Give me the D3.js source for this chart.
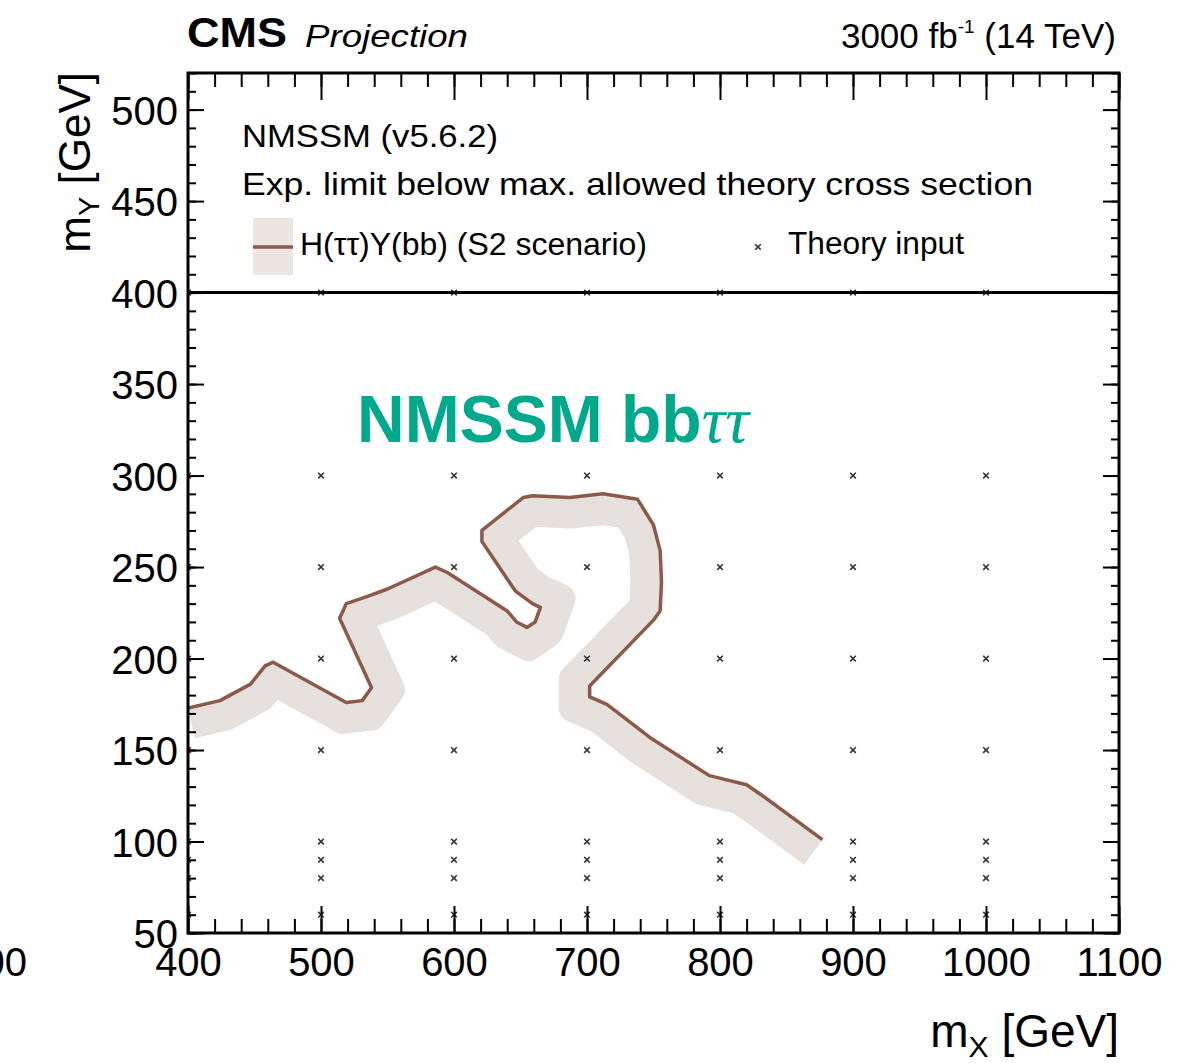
<!DOCTYPE html>
<html>
<head>
<meta charset="utf-8">
<script src="https://cdn.jsdelivr.net/npm/d3@7"></script>
<style>
  html, body { margin: 0; padding: 0; background: #fff; }
  svg { display: block; }
  text { font-family: 'Liberation Sans', Arial, Helvetica, sans-serif; fill: #000; }
</style>
</head>
<body>
<svg id="chart" width="1204" height="1063"></svg>
<script>
// Axis ticks and labels
const xTickValues = [400, 500, 600, 700, 800, 900, 1000, 1100];
const yTickValues = [50, 100, 150, 200, 250, 300, 350, 400, 450, 500];

// Expected exclusion contour, H(tautau)Y(bb), S2 scenario: (mX, mY) in GeV
const contourMX = [400, 424, 447, 458, 464, 519, 531, 538, 514, 519, 535, 550, 586, 595,
                   640, 647, 655, 661, 665, 659, 646, 621, 621, 652, 659, 687, 712, 738,
                   750, 755, 756, 755, 750, 702, 702, 715, 747, 792, 820, 832, 877];
const contourMY = [173, 177, 186, 196, 198, 176, 177, 184, 222, 230, 234, 238, 250, 247,
                   226, 220, 217, 220, 228, 230, 237, 264, 270, 288, 289, 288, 290, 287,
                   273, 259, 242, 226, 221, 185, 179, 175, 157, 136, 131, 125, 101];

// Mass points with theory input
const theoryMX = [400, 500, 600, 700, 800, 900, 1000];
const theoryMY = [60, 80, 90, 100, 150, 200, 250, 300, 400];

const svg = d3.select("#chart");
const W = 1204, H = 1063;
const plot = { left: 188, right: 1119, top: 73, bottom: 933 };

svg.append("rect").attr("width", W).attr("height", H).attr("fill", "#fff");

const x = d3.scaleLinear().domain([400, 1100]).range([plot.left, plot.right]);
const y = d3.scaleLinear().domain([50, 520]).range([plot.bottom, plot.top]);

const lineColor = "#8b5a4b";
const bandColor = "#e6e1dc";

// clip for plotting area
svg.append("clipPath").attr("id", "plotClip")
  .append("rect")
  .attr("x", plot.left).attr("y", plot.top)
  .attr("width", plot.right - plot.left).attr("height", plot.bottom - plot.top);

const g = svg.append("g").attr("clip-path", "url(#plotClip)");

// contour in pixel space
const pts = contourMX.map((mx, i) => [x(mx), y(contourMY[i])]);

// one-sided band: offset the contour to its right-hand side
function offsetPolyline(p, d) {
  const n = p.length;
  const normals = [];
  for (let i = 0; i < n - 1; i++) {
    const dx = p[i + 1][0] - p[i][0], dy = p[i + 1][1] - p[i][1];
    const L = Math.hypot(dx, dy) || 1;
    normals.push([-dy / L, dx / L]);
  }
  return p.map((pt, i) => {
    let m;
    if (i === 0) m = normals[0];
    else if (i === n - 1) m = normals[n - 2];
    else {
      const a = normals[i - 1], b = normals[i];
      let sx = a[0] + b[0], sy = a[1] + b[1];
      const L = Math.hypot(sx, sy);
      if (L < 1e-6) { m = a; }
      else {
        sx /= L; sy /= L;
        const c = Math.max(sx * a[0] + sy * a[1], 0.5);
        m = [sx / c, sy / c];
      }
    }
    return [pt[0] + m[0] * d, pt[1] + m[1] * d];
  });
}

const bandWidth = 30;
const bandPts = offsetPolyline(pts, bandWidth / 2 + 1);
const lineGen = d3.line();

g.append("path")
  .attr("d", lineGen(bandPts))
  .attr("fill", "none")
  .attr("stroke", bandColor)
  .attr("stroke-width", bandWidth)
  .attr("stroke-linejoin", "round")
  .attr("stroke-linecap", "butt");

g.append("path")
  .attr("d", lineGen(pts))
  .attr("fill", "none")
  .attr("stroke", lineColor)
  .attr("stroke-width", 3.5)
  .attr("stroke-linejoin", "round")
  .attr("stroke-linecap", "butt");

// theory input markers
const markerPath = "M-2.8,-2.8L2.8,2.8M-2.8,2.8L2.8,-2.8";
const theoryPts = [];
theoryMX.forEach(mx => theoryMY.forEach(my => theoryPts.push([mx, my])));
g.selectAll("path.theory").data(theoryPts).join("path")
  .attr("class", "theory")
  .attr("d", markerPath)
  .attr("transform", d => `translate(${x(d[0])},${y(d[1])})`)
  .attr("stroke", "#333")
  .attr("stroke-width", 1.6)
  .attr("fill", "none");

// separator between plot and legend area
svg.append("line")
  .attr("x1", plot.left).attr("x2", plot.right)
  .attr("y1", y(400)).attr("y2", y(400))
  .attr("stroke", "#000").attr("stroke-width", 3);

// axes (ticks pointing inward)
const tickFont = 40;
function styleAxis(sel) {
  sel.select(".domain").remove();
  sel.selectAll(".tick line").attr("stroke", "#000").attr("stroke-width", 2);
  sel.selectAll("text")
    .attr("font-family", "'Liberation Sans', Arial, Helvetica, sans-serif")
    .attr("font-size", tickFont).attr("fill", "#000");
}

const xMinor = d3.range(400, 1101, 20);
const yMinor = d3.range(50, 521, 10);

svg.append("g").attr("transform", `translate(0,${plot.bottom})`)
  .call(d3.axisBottom(x).tickValues(xMinor).tickSize(-14).tickFormat(""))
  .call(styleAxis);
svg.append("g").attr("transform", `translate(0,${plot.bottom})`)
  .call(d3.axisBottom(x).tickValues(xTickValues).tickSize(-27).tickPadding(15).tickFormat(d3.format("d")))
  .call(styleAxis);
svg.append("g").attr("transform", `translate(0,${plot.top})`)
  .call(d3.axisTop(x).tickValues(xMinor).tickSize(-14).tickFormat(""))
  .call(styleAxis);
svg.append("g").attr("transform", `translate(0,${plot.top})`)
  .call(d3.axisTop(x).tickValues(xTickValues).tickSize(-27).tickFormat(""))
  .call(styleAxis);

svg.append("g").attr("transform", `translate(${plot.left},0)`)
  .call(d3.axisLeft(y).tickValues(yMinor).tickSize(-8).tickFormat(""))
  .call(styleAxis);
const yAxisG = svg.append("g").attr("transform", `translate(${plot.left},0)`)
  .call(d3.axisLeft(y).tickValues(yTickValues).tickSize(-16).tickPadding(10).tickFormat(d3.format("d")))
  .call(styleAxis);
yAxisG.selectAll("text").attr("dy", "0.37em");
svg.append("g").attr("transform", `translate(${plot.right},0)`)
  .call(d3.axisRight(y).tickValues(yMinor).tickSize(-8).tickFormat(""))
  .call(styleAxis);
svg.append("g").attr("transform", `translate(${plot.right},0)`)
  .call(d3.axisRight(y).tickValues(yTickValues).tickSize(-16).tickFormat(""))
  .call(styleAxis);

// frame
svg.append("rect")
  .attr("x", plot.left).attr("y", plot.top)
  .attr("width", plot.right - plot.left).attr("height", plot.bottom - plot.top)
  .attr("fill", "none").attr("stroke", "#000").attr("stroke-width", 3);

// partial label at the left margin
svg.append("text").attr("x", 27).attr("y", 976)
  .attr("text-anchor", "end").attr("font-size", tickFont).text("00");

// axis titles
const xTitle = svg.append("text")
  .attr("x", plot.right).attr("y", 1047)
  .attr("text-anchor", "end").attr("font-size", 46);
xTitle.append("tspan").text("m");
xTitle.append("tspan").attr("font-size", 30).attr("dy", 10).text("X");
xTitle.append("tspan").attr("dy", -10).text(" [GeV]");

const yTitle = svg.append("text")
  .attr("transform", "translate(90,72) rotate(-90)")
  .attr("text-anchor", "end").attr("font-size", 44);
yTitle.append("tspan").text("m");
yTitle.append("tspan").attr("font-size", 29).attr("dy", 9).text("Y");
yTitle.append("tspan").attr("dy", -9).text(" [GeV]");

// header
svg.append("text").attr("x", 187).attr("y", 47)
  .attr("font-size", 42).attr("font-weight", "bold")
  .attr("textLength", 100).attr("lengthAdjust", "spacingAndGlyphs")
  .text("CMS");
svg.append("text").attr("x", 305).attr("y", 47)
  .attr("font-size", 32).attr("font-style", "italic")
  .attr("textLength", 163).attr("lengthAdjust", "spacingAndGlyphs")
  .text("Projection");
const lumi = svg.append("text").attr("x", 1116).attr("y", 48)
  .attr("text-anchor", "end").attr("font-size", 35);
lumi.append("tspan").text("3000 fb");
lumi.append("tspan").attr("font-size", 19).attr("dy", -15).text("-1");
lumi.append("tspan").attr("dy", 15).text(" (14 TeV)");

// legend block
svg.append("text").attr("x", 242).attr("y", 147)
  .attr("font-size", 32)
  .attr("textLength", 256).attr("lengthAdjust", "spacingAndGlyphs")
  .text("NMSSM (v5.6.2)");
svg.append("text").attr("x", 242).attr("y", 195)
  .attr("font-size", 32)
  .attr("textLength", 791).attr("lengthAdjust", "spacingAndGlyphs")
  .text("Exp. limit below max. allowed theory cross section");

svg.append("rect").attr("x", 253).attr("y", 218).attr("width", 40).attr("height", 57)
  .attr("fill", "#ece6e3");
svg.append("line").attr("x1", 253).attr("x2", 293).attr("y1", 247).attr("y2", 247)
  .attr("stroke", lineColor).attr("stroke-width", 3.5);
svg.append("text").attr("x", 300).attr("y", 255)
  .attr("font-size", 31)
  .attr("textLength", 347).attr("lengthAdjust", "spacingAndGlyphs")
  .text("H(ττ)Y(bb) (S2 scenario)");

svg.append("path").attr("d", markerPath)
  .attr("transform", "translate(758,247)")
  .attr("stroke", "#333").attr("stroke-width", 1.6).attr("fill", "none");
svg.append("text").attr("x", 788).attr("y", 254)
  .attr("font-size", 31)
  .attr("textLength", 176).attr("lengthAdjust", "spacingAndGlyphs")
  .text("Theory input");

// channel label
const chan = svg.append("text").attr("x", 357).attr("y", 442)
  .attr("font-size", 66).attr("font-weight", "bold")
  .style("fill", "#00a88c");
chan.append("tspan").text("NMSSM bb");
chan.append("tspan")
  .attr("font-family", "'Liberation Serif', 'Times New Roman', serif")
  .attr("font-style", "italic").attr("font-weight", "normal")
  .style("fill", "#00a88c")
  .text("ττ");
</script>
</body>
</html>
